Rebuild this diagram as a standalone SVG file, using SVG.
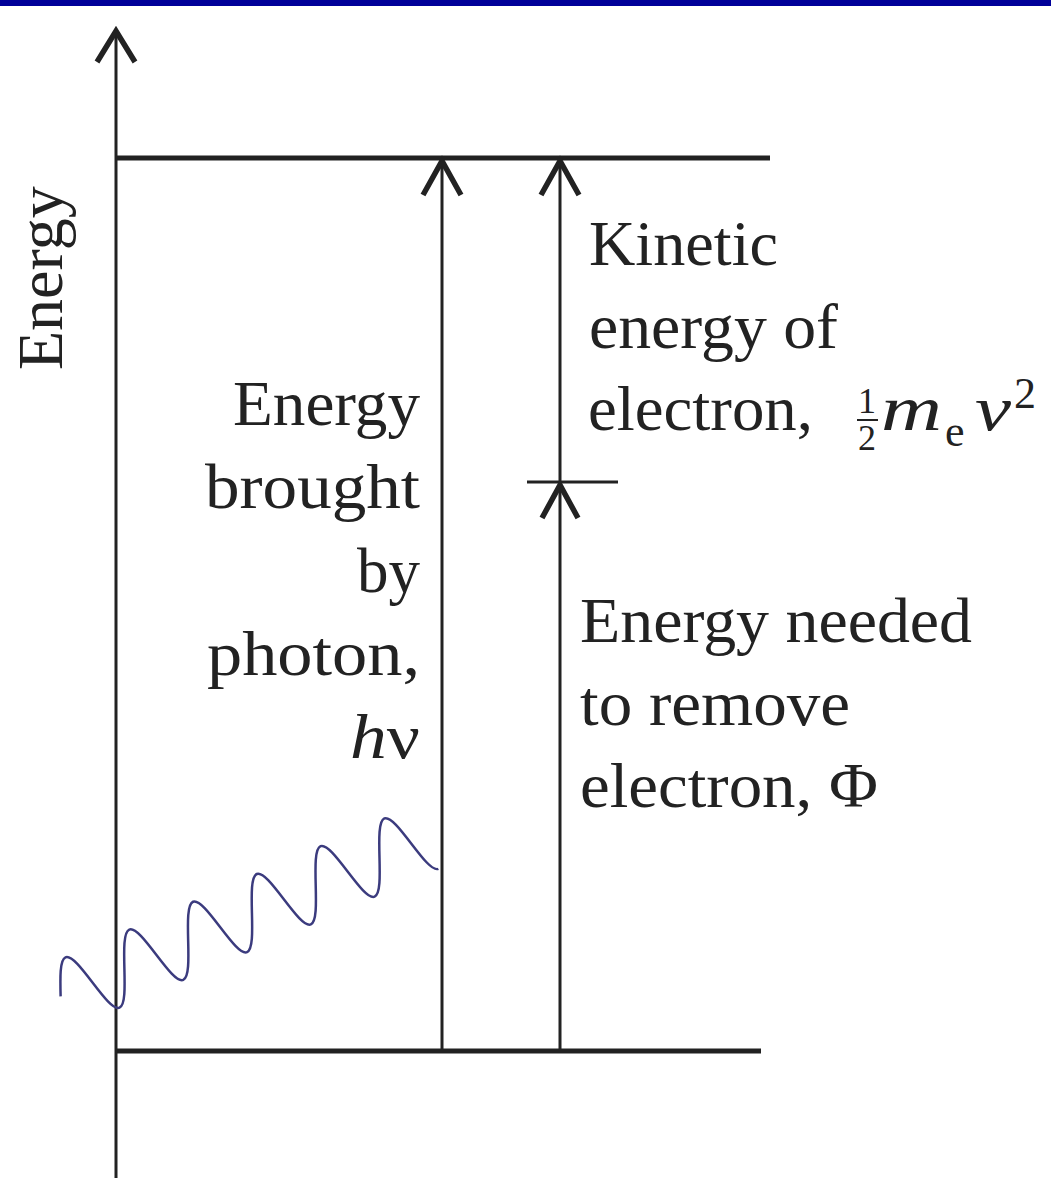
<svg xmlns="http://www.w3.org/2000/svg" width="1051" height="1196" viewBox="0 0 1051 1196">
<style>
.ln{stroke:#222;fill:none;stroke-width:3}
.lvl{stroke:#222;fill:none;stroke-width:5}
.head{stroke:#222;fill:none;stroke-width:5.5;stroke-linejoin:miter;stroke-linecap:butt}
.t{font-family:"Liberation Serif","Times New Roman",serif;font-size:64px;fill:#222}
.i{font-style:italic}
.s{font-family:"Liberation Serif","Times New Roman",serif;fill:#222}
</style>
<rect x="0" y="0" width="1051" height="6" fill="#000099"/>
<g id="axis">
<line class="ln" x1="116" y1="32" x2="116" y2="1178"/>
<polyline class="head" points="97,62 116,31 135,62"/>
<text class="t" transform="translate(62,370) rotate(-90)">Energy</text>
</g>
<g id="levels">
<line id="upper-level" class="lvl" x1="116" y1="158" x2="770" y2="158"/>
<line id="lower-level" class="lvl" x1="116" y1="1051" x2="761" y2="1051"/>
<line id="mid-tick" class="ln" x1="527" y1="482" x2="618" y2="482" stroke-width="2.5"/>
</g>
<g id="photon-wave">
<path transform="matrix(10.15,-4.42,11.07,32.13,92.5,982.5)" vector-effect="non-scaling-stroke" fill="none" stroke="#3b3b7e" stroke-width="2.5" d="M-3.1416,0
c0.5123,-0.5123 1.0023,-1 1.5708,-1 0.5685,0 1.0585,0.4877 1.5708,1 0.5123,0.5123 1.0023,1 1.5708,1 0.5685,0 1.0585,-0.4877 1.5708,-1
0.5123,-0.5123 1.0023,-1 1.5708,-1 0.5685,0 1.0585,0.4877 1.5708,1 0.5123,0.5123 1.0023,1 1.5708,1 0.5685,0 1.0585,-0.4877 1.5708,-1
0.5123,-0.5123 1.0023,-1 1.5708,-1 0.5685,0 1.0585,0.4877 1.5708,1 0.5123,0.5123 1.0023,1 1.5708,1 0.5685,0 1.0585,-0.4877 1.5708,-1
0.5123,-0.5123 1.0023,-1 1.5708,-1 0.5685,0 1.0585,0.4877 1.5708,1 0.5123,0.5123 1.0023,1 1.5708,1 0.5685,0 1.0585,-0.4877 1.5708,-1
0.5123,-0.5123 1.0023,-1 1.5708,-1 0.5685,0 1.0585,0.4877 1.5708,1 0.5123,0.5123 1.0023,1 1.5708,1 0.5685,0 1.0585,-0.4877 1.5708,-1
0.5123,-0.5123 1.0023,-1 1.5708,-1 0.5685,0 1.0585,0.4877 1.5708,1 0.5123,0.5123 1.0023,1 1.5708,1"/>
</g>
<g id="connectors">
<line class="ln" x1="442" y1="1051" x2="442" y2="161"/>
<polyline class="head" points="423,195 442,161 461,195"/>
<line class="ln" x1="560" y1="482" x2="560" y2="161"/>
<polyline class="head" points="541,195 560,161 579,195"/>
<line class="ln" x1="560" y1="1051" x2="560" y2="485"/>
<polyline class="head" points="542,518 560,485 578,518"/>
</g>
<g id="label-photon">
<text class="t" x="420" y="425" text-anchor="end" textLength="187" lengthAdjust="spacingAndGlyphs">Energy</text>
<text class="t" x="420" y="508" text-anchor="end" textLength="215" lengthAdjust="spacingAndGlyphs">brought</text>
<text class="t" x="420" y="592" text-anchor="end" textLength="63" lengthAdjust="spacingAndGlyphs">by</text>
<text class="t" x="420" y="675" text-anchor="end" textLength="213" lengthAdjust="spacingAndGlyphs">photon,</text>
<text class="t" x="420" y="758" text-anchor="end" textLength="70" lengthAdjust="spacingAndGlyphs"><tspan class="i">h</tspan>ν</text>
</g>
<g id="label-kinetic">
<text class="t" x="589" y="265" textLength="189" lengthAdjust="spacingAndGlyphs">Kinetic</text>
<text class="t" x="589" y="348" textLength="249" lengthAdjust="spacingAndGlyphs">energy of</text>
<text class="t" x="588" y="430" textLength="225" lengthAdjust="spacingAndGlyphs">electron,</text>
<text class="s" x="867" y="413" font-size="36" text-anchor="middle">1</text>
<line x1="857" y1="420" x2="878" y2="420" stroke="#222" stroke-width="2"/>
<text class="s" x="867" y="450" font-size="36" text-anchor="middle">2</text>
<text class="t i" x="881" y="430" textLength="61" lengthAdjust="spacingAndGlyphs">m</text>
<text class="s" x="945" y="446" font-size="44">e</text>
<text class="t i" x="975" y="430" textLength="36" lengthAdjust="spacingAndGlyphs">v</text>
<text class="s" x="1014" y="408" font-size="44">2</text>
</g>
<g id="label-work">
<text class="t" x="580" y="642" textLength="392" lengthAdjust="spacingAndGlyphs">Energy needed</text>
<text class="t" x="580" y="725" textLength="270" lengthAdjust="spacingAndGlyphs">to remove</text>
<text class="t" x="580" y="807" textLength="298" lengthAdjust="spacingAndGlyphs">electron, Φ</text>
</g>
</svg>
